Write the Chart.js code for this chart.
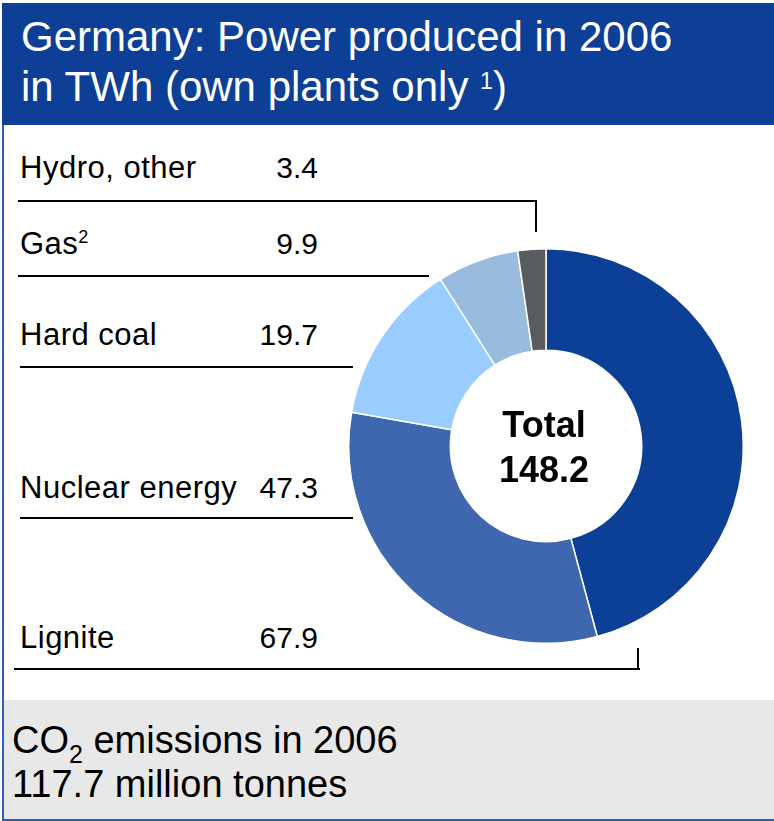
<!DOCTYPE html>
<html>
<head>
<meta charset="utf-8">
<script src="https://cdn.jsdelivr.net/npm/chart.js@4/dist/chart.umd.min.js"></script>
<style>
  body { margin: 0; background: #fff; font-family: "Liberation Sans", Arial, sans-serif; }
  #frame { position: absolute; left: 0; top: 0; width: 774px; height: 821px; overflow: hidden; }
  #head { position: absolute; left: 2px; top: 3px; width: 772px; height: 122px; background: #0d3f96; color: #fff;
          font-size: 42px; line-height: 50px; box-sizing: border-box; padding: 9px 0 0 19px; white-space: nowrap; }
  #head .sup { font-size: 23px; position: relative; top: -12px; }
  #leftbar { position: absolute; left: 2px; top: 125px; width: 2px; height: 696px; background: #2f5fb3; }
  #foot { position: absolute; left: 4px; top: 700px; width: 770px; height: 119px; background: #e8e8e8;
          font-size: 38px; line-height: 44px; padding: 18px 0 0 8px; box-sizing: border-box; color: #000; white-space: nowrap; }
  #foot sub { font-size: 25px; vertical-align: -10px; line-height: 0; }
  #bottombar { position: absolute; left: 2px; top: 819px; width: 772px; height: 2px; background: #2f5fb3; }
  .lab { position: absolute; left: 20px; font-size: 31px; line-height: 30px; letter-spacing: 0.5px; color: #000; white-space: nowrap; }
  .val { position: absolute; font-size: 30px; line-height: 30px; color: #000; text-align: right; width: 100px; left: 218px; }
  .lab .sup { font-size: 18px; position: relative; top: -11px; letter-spacing: 0; }
  .h { position: absolute; height: 2px; background: #000; }
  .v { position: absolute; width: 2px; background: #000; }
  #wrap { position: absolute; left: 348px; top: 248px; width: 396px; height: 396px; }
</style>
</head>
<body>
<div id="frame">
  <div id="head">Germany: Power produced in 2006<br>in TWh (own plants only <span class="sup">1</span>)</div>
  <div id="leftbar"></div>
  <div id="labels"></div>
  <div class="h" style="left:18px;top:200px;width:519px"></div>
  <div class="v" style="left:535px;top:200px;height:32px"></div>
  <div class="h" style="left:18px;top:275px;width:411px"></div>
  <div class="h" style="left:20px;top:366px;width:333px"></div>
  <div class="h" style="left:20px;top:517px;width:333px"></div>
  <div class="h" style="left:14px;top:668px;width:626px"></div>
  <div class="v" style="left:637px;top:648px;height:22px"></div>
  <div id="wrap"><canvas id="c" width="396" height="396"></canvas></div>
  <div id="foot">CO<sub>2</sub> emissions in 2006<br>117.7 million tonnes</div>
  <div id="bottombar"></div>
</div>
<script>
// data, clockwise from 12 o'clock
var sources = ['Lignite', 'Nuclear energy', 'Hard coal', 'Gas', 'Hydro, other'];
var twh = [67.9, 47.3, 19.7, 9.9, 3.4];
var colors = ['#0c3f96', '#3e67b0', '#99ccff', '#99bbdd', '#585b60'];
var total = '148.2';
// label rows on the left (top to bottom)
var labelNames = ['Hydro, other', 'Gas<span class="sup">2</span>', 'Hard coal', 'Nuclear energy', 'Lignite'];
var labelValues = ['3.4', '9.9', '19.7', '47.3', '67.9'];
var labelTops = [153, 229, 320, 473, 623];

var box = document.getElementById('labels');
labelNames.forEach(function (n, i) {
    box.insertAdjacentHTML('beforeend',
        '<div class="lab" style="top:' + labelTops[i] + 'px">' + n + '</div>' +
        '<div class="val" style="top:' + labelTops[i] + 'px">' + labelValues[i] + '</div>');
});

var centerText = {
    id: 'centerText',
    afterDraw: function (chart) {
        var ctx = chart.ctx;
        var m = chart.getDatasetMeta(0).data[0];
        ctx.save();
        ctx.fillStyle = '#000';
        ctx.font = 'bold 36px "Liberation Sans", Arial, sans-serif';
        ctx.textAlign = 'center';
        ctx.textBaseline = 'alphabetic';
        ctx.fillText('Total', m.x - 2, m.y - 9);
        ctx.fillText(total, m.x - 2, m.y + 36);
        ctx.restore();
    }
};

var ctx = document.getElementById('c').getContext('2d');
var chart = new Chart(ctx, {
    type: 'doughnut',
    data: {
        labels: sources,
        datasets: [{
            data: twh,
            backgroundColor: colors,
            borderColor: '#fff',
            borderWidth: 1.5
        }]
    },
    options: {
        responsive: false,
        animation: false,
        cutout: '48.5%',
        layout: { padding: 0 },
        plugins: {
            legend: { display: false },
            tooltip: { enabled: false }
        }
    },
    plugins: [centerText]
});
</script>
</body>
</html>
